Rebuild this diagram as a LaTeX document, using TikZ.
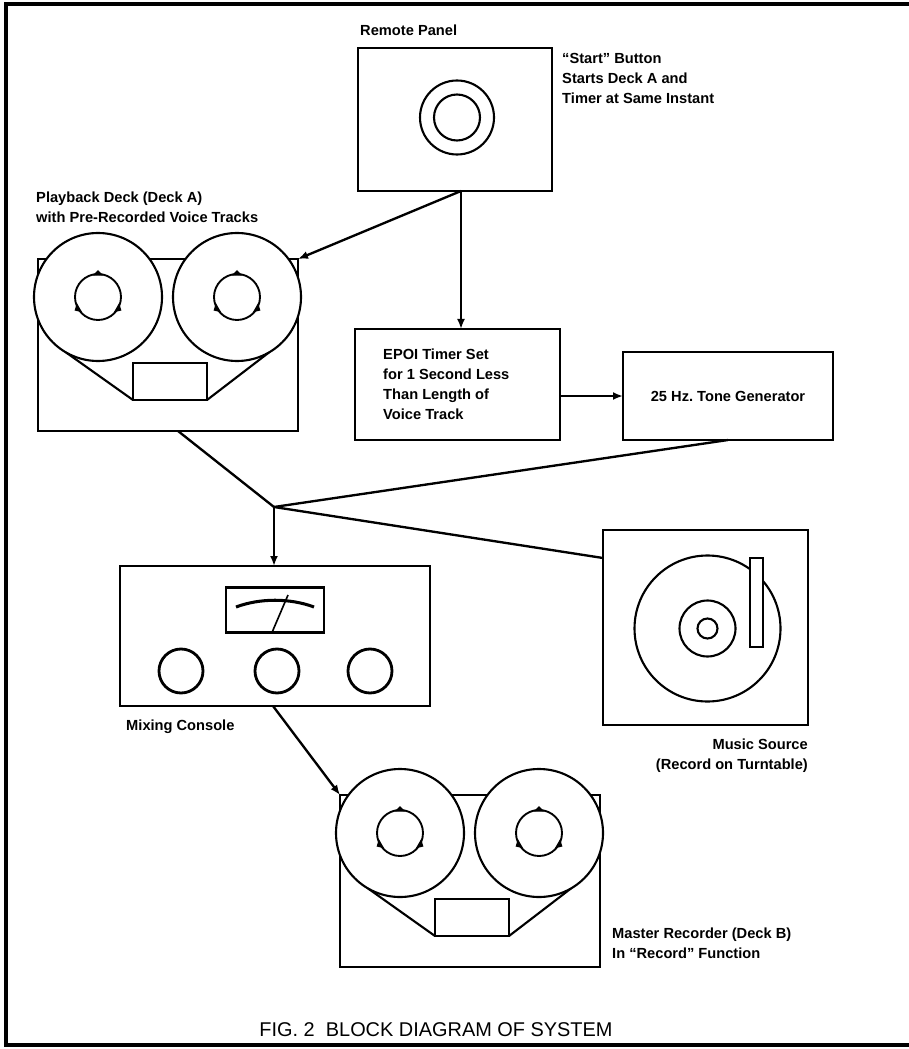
\documentclass[tikz,border=0pt]{standalone}
\usepackage{fontspec}
\setmainfont{Liberation Sans}
\usetikzlibrary{arrows.meta,positioning,calc}
\tikzset{>={Latex[width=2.4mm,length=3mm]}}
\newlength\px
\setlength\px{0.03cm}
\frenchspacing
\tikzset{
  box/.style={draw,line width=2.2pt,inner sep=0pt,outer sep=0pt,fill=white},
  lbl/.style={font=\bfseries\fontsize{12.5}{17}\selectfont,align=left,inner sep=0pt},
  wire/.style={line width=2pt},
  reel/.style={draw,line width=1.8pt,fill=white},
}

\begin{document}
\begin{tikzpicture}[x=0.03cm,y=-0.03cm]
		\useasboundingbox (0,0) rectangle (909,1049);
		% border
		\draw[line width=2.6pt] (909,4) -- (6,4) -- (6,1045) -- (909,1045);
		% remote panel with start button
		\node[box,minimum width=194\px,minimum height=143\px] (remote) at (455,119.5) {};
		\draw[reel] ($(remote.center)+(2,-2)$) circle (37);
		\draw[reel] ($(remote.center)+(2,-2)$) circle (23);
		\node[lbl,anchor=west] (remotetxt) at ($(remote.north west)+(2,-18)$) {Remote Panel};
		\node[lbl,anchor=north west] (starttxt) at ($(remote.north east)+(10,5)$) {“Start” Button\\Starts Deck A and\\Timer at Same Instant};
		% tape decks
		\node[box,minimum width=260\px,minimum height=172\px] (deckA) at (168,345) {};
		\node[box,minimum width=260\px,minimum height=172\px] (deckB) at (470,881) {};
		\foreach \d in {deckA,deckB}{
			\coordinate (\d-L) at ($(\d.north west)+(60,38)$);
			\coordinate (\d-R) at ($(\d.north west)+(199,38)$);
			\draw[line width=1.8pt] ($(\d.north west)+(95,104)$) rectangle ($(\d.north west)+(169,141)$);
			\draw[line width=1.8pt] ($(\d-L)+(120:64)$) -- ($(\d.north west)+(95,141)$);
			\draw[line width=1.8pt] ($(\d-R)+(60:64)$) -- ($(\d.north west)+(169,141)$);
			\foreach \c in {L,R}{
				\draw[reel] (\d-\c) circle (64);
				\draw[line width=1.6pt] (\d-\c) circle (23);
				\foreach \a in {-90,30,150}
					\fill ($(\d-\c)+(\a:27)$) -- ($(\d-\c)+({\a-14}:22)$) -- ($(\d-\c)+({\a+14}:22)$) -- cycle;
			}
		}
		\node[lbl,anchor=south west] (deckAtxt) at ($(deckA.north west)+(-2,-36)$) {Playback Deck (Deck A)\\with Pre-Recorded Voice Tracks};
		\node[lbl,anchor=south west] (deckBtxt) at ($(deckB.south east)+(12,-8)$) {Master Recorder (Deck B)\\In “Record” Function};
		% timer and tone generator
		\node[box,minimum width=205\px,minimum height=111\px] (timer) at (457.5,384.5) {};
		\node[lbl,anchor=west] (timertxt) at ($(timer.west)+(28,0)$) {EPOI Timer Set\\for 1 Second Less\\Than Length of\\Voice Track};
		\node[box,lbl,inner sep=0pt,minimum width=210\px,minimum height=88\px] (tone) at (728,396) {25 Hz. Tone Generator};
		% mixing console
		\node[box,minimum width=310\px,minimum height=140\px] (mixer) at (275,636) {};
		\node[box,line width=1.8pt,minimum width=98\px,minimum height=45\px] (meter) at (275,610) {};
		\draw[line width=2.6pt] ($(meter.west)+(10,-3)$) .. controls ($(meter.center)+(-15,-12)$) and ($(meter.center)+(15,-12)$) .. ($(meter.east)+(-10,-3)$);
		\draw[line width=1.4pt] ($(meter.south)+(-3,0)$) -- ($(meter.center)+(13,-15)$);
		\foreach \k/\x in {1/-94,2/2,3/95}
			\node[draw,circle,line width=2.4pt,minimum size=44\px,inner sep=0pt] (knob\k) at ($(mixer.center)+(\x,35)$) {};
		\node[lbl,anchor=north west] (mixertxt) at ($(mixer.south west)+(6,14)$) {Mixing Console};
		% turntable
		\node[box,minimum width=205\px,minimum height=195\px] (turntable) at (705.5,627.5) {};
		\coordinate (platter) at ($(turntable.center)+(2,1)$);
		\draw[line width=1.8pt] (platter) circle (73);
		\draw[line width=1.8pt] (platter) circle (28);
		\draw[line width=1.8pt] (platter) circle (10);
		\draw[line width=1.8pt,fill=white] ($(turntable.north west)+(147,28)$) rectangle ($(turntable.north west)+(160,117)$);
		\node[lbl,anchor=north east,align=right] (turntabletxt) at ($(turntable.south east)+(0,14)$) {Music Source\\(Record on Turntable)};
		% signal paths
		\coordinate (rp) at ($(remote.south)+(6,0)$);
		\draw[wire,->] (rp) -- (rp |- timer.north);
		\draw[wire,->] (rp) -- (deckA.north east);
		\draw[wire,->] (timer.east |- tone.west) -- (tone.west);
		\coordinate (mixin) at (274,507);
		\draw[wire] ($(deckA.south)+(10,0)$) -- (mixin);
		\draw[wire] (tone.south) -- (mixin);
		\draw[wire] (mixin) -- ($(turntable.north west)+(0,28)$);
		\draw[wire,->] (mixin) -- (mixin |- mixer.north);
		\draw[wire,->] ($(mixer.south)+(-2,0)$) -- (deckB.north west);
		% caption
		\node[font=\fontsize{17}{20}\selectfont] (caption) at (436,1030) {FIG. 2\ \ BLOCK DIAGRAM OF SYSTEM};
\end{tikzpicture}
\end{document}
